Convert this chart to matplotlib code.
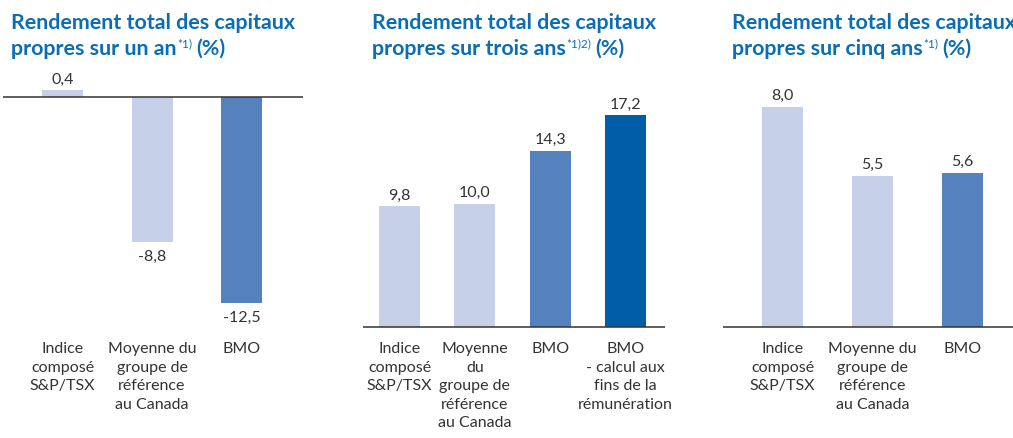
# Rendement total des capitaux propres : 1 an, 3 ans, 5 ans

import matplotlib
matplotlib.use("Agg")
import matplotlib.pyplot as plt
from matplotlib.transforms import IdentityTransform, blended_transform_factory

plt.rcParams['font.family'] = ['Lato', 'DejaVu Sans']

# data

cats_1y = ["Indice\ncomposé\nS&P/TSX", "Moyenne du\ngroupe de\nréférence\nau Canada", "BMO"]
vals_1y = [0.4, -8.8, -12.5]

cats_3y = ["Indice\ncomposé\nS&P/TSX", "Moyenne\ndu\ngroupe de\nréférence\nau Canada", "BMO",
           "BMO\n- calcul aux\nfins de la\nrémunération"]
vals_3y = [9.8, 10.0, 14.3, 17.2]

cats_5y = ["Indice\ncomposé\nS&P/TSX", "Moyenne du\ngroupe de\nréférence\nau Canada", "BMO"]
vals_5y = [8.0, 5.5, 5.6]

titles = [("Rendement total des capitaux", "propres sur un an", "*1)"),
          ("Rendement total des capitaux", "propres sur trois ans", "*1)2)"),
          ("Rendement total des capitaux", "propres sur cinq ans", "*1)")]

light, mid, dark = '#c6d1e9', '#5582bd', '#005ea6'
title_blue = '#0b6db3'
txt = '#333333'

W, H = 1013, 439
fig = plt.figure(figsize=(W / 100, H / 100), dpi=100)

# layout in pixels: baseline left/right, baseline y, px per unit, first bar center, bar spacing, bar width
panels = [
    dict(cats=cats_1y, vals=vals_1y, colors=[light, light, mid],
         left=3, right=303, base=98, scale=16.5, c0=62.5, sp=89.5, bw=41, tx=11),
    dict(cats=cats_3y, vals=vals_3y, colors=[light, light, mid, dark],
         left=363, right=665, base=328, scale=12.3, c0=399.5, sp=75.3, bw=41, tx=372),
    dict(cats=cats_5y, vals=vals_5y, colors=[light, light, mid],
         left=723, right=1023, base=328, scale=27.5, c0=782.5, sp=90, bw=41, tx=732),
]

top, bottom = 60, 335
renderer = fig.canvas.get_renderer()
tsize = 15.4

for p, (l1, l2, sup) in zip(panels, titles):
    ax = fig.add_axes([p['left'] / W, 1 - bottom / H, (p['right'] - p['left']) / W, (bottom - top) / H])
    ax.set_xlim((p['left'] - p['c0']) / p['sp'], (p['right'] - p['c0']) / p['sp'])
    ax.set_ylim(-(bottom - p['base']) / p['scale'], (p['base'] - top) / p['scale'])
    ax.axis('off')
    x = range(len(p['vals']))
    ax.bar(x, p['vals'], width=p['bw'] / p['sp'], color=p['colors'], zorder=2)
    ax.axhline(0, color=txt, lw=1.1, zorder=3)

    for i, v in zip(x, p['vals']):
        lab = f"{v:.1f}".replace('.', ',')
        if v >= 0:
            ax.annotate(lab, (i, v), xytext=(0, 3.5), textcoords='offset points',
                        ha='center', va='bottom', fontsize=11.5, color=txt)
        else:
            ax.annotate(lab, (i, v), xytext=(0, -5), textcoords='offset points',
                        ha='center', va='top', fontsize=11.5, color=txt)

    tr = blended_transform_factory(ax.transData, fig.transFigure)
    for i, c in zip(x, p['cats']):
        ax.text(i, 1 - 342 / H, c, transform=tr, ha='center', va='top',
                fontsize=11.5, color=txt, linespacing=1.42, clip_on=False)

    # title, with small raised note marks
    fig.text(p['tx'], H - 29, l1, transform=IdentityTransform(), fontsize=tsize,
             fontweight='bold', color=title_blue, va='baseline')
    t2 = fig.text(p['tx'], H - 55, l2, transform=IdentityTransform(), fontsize=tsize,
                  fontweight='bold', color=title_blue, va='baseline')
    x2 = t2.get_window_extent(renderer).x1
    t3 = fig.text(x2 + 1, H - 47, sup, transform=IdentityTransform(), fontsize=8.5,
                  color=title_blue, va='baseline')
    x3 = t3.get_window_extent(renderer).x1
    fig.text(x3 + 4, H - 55, "(%)", transform=IdentityTransform(), fontsize=tsize,
             fontweight='bold', color=title_blue, va='baseline')

fig.savefig('out.png', dpi=100)
